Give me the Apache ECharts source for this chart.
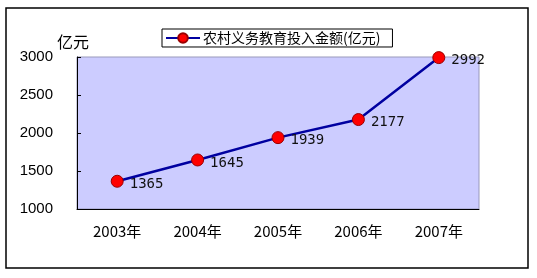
<!DOCTYPE html>
<html><head><meta charset="utf-8">
<script src="https://cdn.jsdelivr.net/npm/echarts@6/dist/echarts.min.js"></script>
<style>html,body{margin:0;padding:0;background:#fff}#c{width:537px;height:278px}</style>
</head><body><div id="c"></div>
<script>
var categories = ['2003年','2004年','2005年','2006年','2007年'];
var values = [1365, 1645, 1939, 2177, 2992];
var seriesName = '农村义务教育投入金额(亿元)';
var yUnit = '亿元';

var chart = echarts.init(document.getElementById('c'));
chart.setOption({
  animation: false,
  backgroundColor: '#fff',
  graphic: [{type:'rect', shape:{x:6,y:8,width:522,height:260}, style:{fill:'none',stroke:'#000',lineWidth:1.5}, z:-1},
            {type:'text', left:57, top:34, style:{text:yUnit, font:'16px "Noto Sans CJK SC"', fill:'#000'}}],
  legend: {
    left: 162, top: 29, padding: [2, 12, 2, 3],
    borderColor: '#000', borderWidth: 1,
    itemWidth: 34, itemHeight: 12, itemGap: 0,
    textStyle: {fontSize: 14, fontFamily: '"Noto Sans CJK SC"', color: '#000', padding: [0,0,0,-2]},
    data: [{name: seriesName}]
  },
  grid: {left: 77, top: 57, right: 58, bottom: 69, show: true, backgroundColor: '#CCCCFF', borderColor: '#9999bb', borderWidth: 1},
  xAxis: {
    type: 'category', data: categories, boundaryGap: true,
    axisLine: {lineStyle: {color: '#000', width: 1}},
    axisTick: {inside: true, length: 4, lineStyle: {color: '#000'}},
    axisLabel: {margin: 15, fontSize: 15, fontFamily: '"Noto Sans CJK SC"', color: '#000'}
  },
  yAxis: {
    type: 'value', min: 1000, max: 3000, interval: 500,
    axisLine: {show: true, lineStyle: {color: '#000', width: 1}},
    axisTick: {show: true, inside: true, length: 4, lineStyle: {color: '#000'}},
    splitLine: {show: false},
    axisLabel: {margin: 24, fontSize: 15, fontFamily: 'Liberation Sans', color: '#000', formatter: function(v){ return String(v); }}
  },
  series: [{
    name: seriesName, type: 'line', data: values,
    symbol: 'circle', symbolSize: 12,
    lineStyle: {color: '#0000A0', width: 2.5},
    itemStyle: {color: '#FF0000', borderColor: '#990000', borderWidth: 1},
    label: {show: true, position: 'right', distance: 6, offset: [0, 3], fontSize: 14, fontFamily: '"DejaVu Sans Mono"', color: '#111'}
  }]
});
</script></body></html>
